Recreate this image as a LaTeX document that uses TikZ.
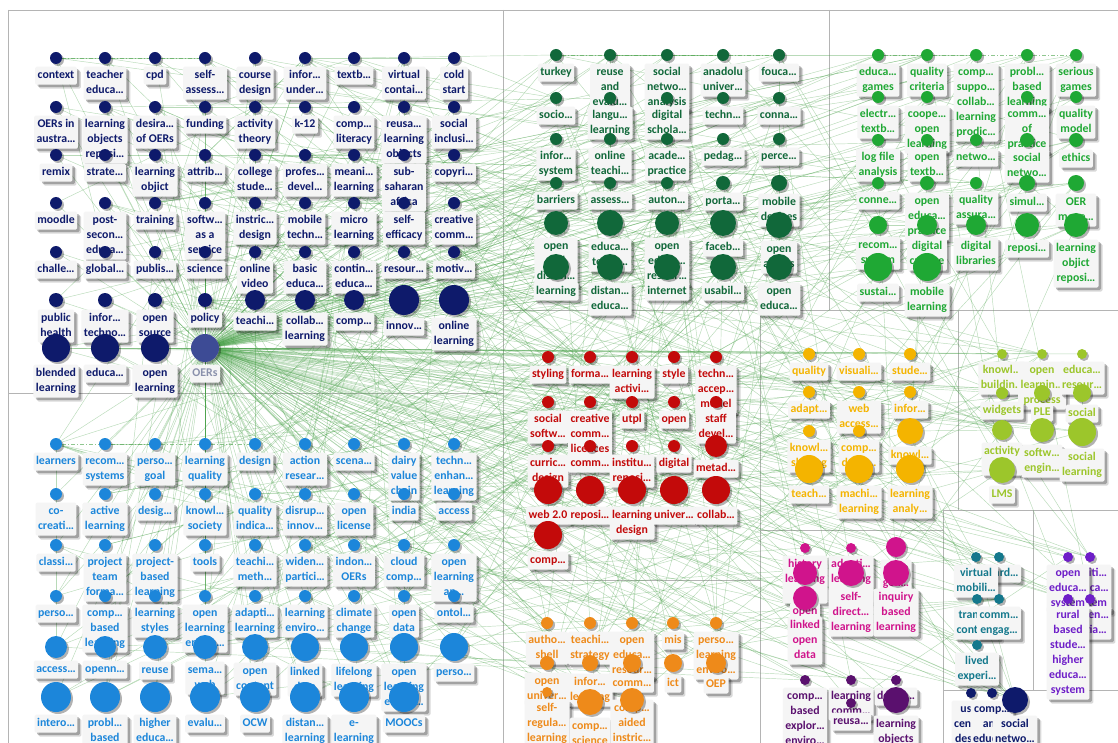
\documentclass[tikz,border=0pt]{standalone}
\usepackage{fontspec}
\setmainfont{Carlito}
\usetikzlibrary{shadows}

\definecolor{cNavy}{HTML}{0E1A6B}
\definecolor{cOer}{HTML}{3D4B95}
\definecolor{cOerText}{HTML}{8A91AC}
\definecolor{cSky}{HTML}{1C86DA}
\definecolor{cDkGreen}{HTML}{11683A}
\definecolor{cLtGreen}{HTML}{1FA834}
\definecolor{cRed}{HTML}{C30A0A}
\definecolor{cAmber}{HTML}{F4B400}
\definecolor{cLime}{HTML}{9CC62B}
\definecolor{cMagenta}{HTML}{D0148C}
\definecolor{cOrange}{HTML}{EE8A1A}
\definecolor{cTeal}{HTML}{14788C}
\definecolor{cViolet}{HTML}{6E1EC8}
\definecolor{cPlum}{HTML}{5A106E}
\definecolor{cEdge}{HTML}{45A045}
\definecolor{cPanel}{HTML}{B4B4B4}
\definecolor{cLabel}{HTML}{F5F5F5}

\pgfdeclarelayer{bg}
\pgfdeclarelayer{edges}
\pgfdeclarelayer{labels}
\pgfsetlayers{bg,edges,labels,main}

\newcount\kwn
\def\kwc{cNavy}
\def\kwlabels{}
\newcommand\kwfont{\fontsize{11.8}{15}\selectfont\bfseries}

\tikzset{
  kwdot/.style={circle, fill=\kwc, inner sep=0pt, draw=none,
    drop shadow={shadow xshift=2pt, shadow yshift=-2pt, opacity=.3, fill=black}},
  kwlabel/.style={anchor=north, fill=cLabel, rounded corners=1.5pt,
    inner xsep=2.5pt, inner ysep=1.5pt, align=center, font=\kwfont,
    drop shadow={shadow xshift=4pt, shadow yshift=-4pt, opacity=.15, fill=black},
    drop shadow={shadow xshift=2.5pt, shadow yshift=-2.5pt, opacity=.25, fill=black}},
  edge/.style={draw=cEdge, line width=.45pt, opacity=.38},
  dashedge/.style={draw=cEdge, line width=.5pt, opacity=.6, dash pattern=on 4pt off 2pt on 1pt off 2pt},
  panel/.style={draw=cPanel, line width=.7pt},
}

% keyword dot now, its label queued for the label layer:
% [label shift]{x}{y}{radius}{label}
\newcommand\kw[5][0]{%
  \global\advance\kwn by 1\relax
  \node[kwdot, minimum size=2*#4] (k\the\kwn) at (#2,#3) {};%
  \xdef\kwlabels{\unexpanded\expandafter{\kwlabels}%
    \noexpand\kwlab{\the\kwn}{\kwc}{#2}{#3+#4+2.5+#1}{\unexpanded{#5}}}}
\newcommand\kwlab[5]{\node[kwlabel, text=#2] (k#1-l) at (#3,#4) {\strut#5\strut};}

% dashed links along a row: first index, number of links
\newcommand\kwchain[2]{%
  \foreach \j in {1,...,#2}{%
    \pgfmathtruncatemacro\kwp{#1+\j-1}%
    \pgfmathtruncatemacro\kwq{#1+\j}%
    \draw[dashedge] (k\kwp) -- (k\kwq);}}

\begin{document}
\begin{tikzpicture}[x=1pt,y=-1pt]
\useasboundingbox (0,0) rectangle (1118,743);

\begin{pgfonlayer}{bg}
  \fill[white] (0,0) rectangle (1118,743);
  \draw[panel] (8,10) -- (1118,10);
  \draw[panel] (8,10) -- (8,743);
  \draw[panel] (503,10) -- (503,743);
  \draw[panel] (829,10) -- (829,310);
  \draw[panel] (8,393) -- (503,393);
  \draw[panel] (503,310) -- (1118,310);
  \draw[panel] (760,310) -- (760,743);
  \draw[panel] (503,580) -- (760,580);
  \draw[panel] (958,310) -- (958,510);
  \draw[panel] (760,530) -- (943,530);
  \draw[panel] (943,510) -- (943,743);
  \draw[panel] (943,510) -- (1118,510);
  \draw[panel] (1033,510) -- (1033,690);
  \draw[panel] (943,690) -- (1118,690);
\end{pgfonlayer}

% ---------------- navy cluster
\def\kwc{cNavy}
\xdef\navyfirst{\the\numexpr\kwn+1\relax}
\kw{56}{58}{6}{context}
\kw{105}{58}{6}{teacher\\educa…}
\kw{155}{58}{6}{cpd}
\kw{205}{58}{6}{self-\\assess…}
\kw{255}{58}{6}{course\\design}
\kw{305}{58}{6}{infor…\\under…}
\kw{354}{58}{6}{textb…}
\kw{404}{58}{6}{virtual\\contai…}
\kw{454}{58}{6}{cold\\start}
\kw{56}{107}{6}{OERs in\\austra…}
\kw{105}{107}{6}{learning\\objects\\reposi…}
\kw{155}{107}{6}{desira…\\of OERs}
\kw{205}{107}{6}{funding}
\kw{255}{107}{6}{activity\\theory}
\kw{305}{107}{6}{k-12}
\kw{354}{107}{6}{comp…\\literacy}
\kw{404}{107}{6}{reusa…\\learning\\objects}
\kw{454}{107}{6}{social\\inclusi…}
\kw{56}{155}{6}{remix}
\kw{105}{155}{6}{strate…}
\kw{155}{155}{6}{learning\\objict}
\kw{205}{155}{6}{attrib…}
\kw{255}{155}{6}{college\\stude…}
\kw{305}{155}{6}{profes…\\devel…}
\kw{354}{155}{6}{meani…\\learning}
\kw{404}{155}{6}{sub-\\saharan\\africa}
\kw{454}{155}{6}{copyri…}
\kw{56}{203}{6}{moodle}
\kw{105}{203}{6}{post-\\secon…\\educa…}
\kw{155}{203}{6}{training}
\kw{205}{203}{6}{softw…\\as a\\service}
\kw{255}{203}{6}{instric…\\design}
\kw{305}{203}{6}{mobile\\techn…}
\kw{354}{203}{6}{micro\\learning}
\kw{404}{203}{6}{self-\\efficacy}
\kw{454}{203}{6}{creative\\comm…}
\kw{56}{252}{6}{challe…}
\kw{105}{252}{6}{global…}
\kw{155}{252}{6}{publis…}
\kw{205}{252}{6}{science}
\kw{255}{252}{6}{online\\video}
\kw{305}{252}{6}{basic\\educa…}
\kw{354}{252}{6}{contin…\\educa…}
\kw{404}{252}{6}{resour…}
\kw{454}{252}{6}{motiv…}
\kw{56}{300}{7}{public\\health}
\kw{105}{300}{7}{infor…\\techno…}
\kw{155}{300}{7}{open\\source}
\kw{205}{300}{7}{policy}
\kw{255}{300}{10}{teachi…}
\kw{305}{300}{10}{collab…\\learning}
\kw{354}{300}{10}{comp…}
\kw{404}{300}{15}{innov…}
\kw{454}{300}{15}{online\\learning}
\kw{56}{348}{14}{blended\\learning}
\kw{105}{348}{14}{educa…}
\kw{155}{348}{14}{open\\learning}
\node[kwdot, fill=cOer, minimum size=28] (oers) at (205,348) {};

% ---------------- blue cluster
\def\kwc{cSky}
\xdef\bluefirst{\the\numexpr\kwn+1\relax}
\kw{56}{444}{6}{learners}
\kw{105}{444}{6}{recom…\\systems}
\kw{155}{444}{6}{perso…\\goal}
\kw{205}{444}{6}{learning\\quality}
\kw{255}{444}{6}{design}
\kw{305}{444}{6}{action\\resear…}
\kw{354}{444}{6}{scena…}
\kw{404}{444}{6}{dairy\\value\\chain}
\kw{454}{444}{6}{techn…\\enhan…\\learning}
\kw{56}{494}{6}{co-\\creati…}
\kw{105}{494}{6}{active\\learning}
\kw{155}{494}{6}{desig…}
\kw{205}{494}{6}{knowl…\\society}
\kw{255}{494}{6}{quality\\indica…}
\kw{305}{494}{6}{disrup…\\innov…}
\kw{354}{494}{6}{open\\license}
\kw{404}{494}{6}{india}
\kw{454}{494}{6}{access}
\kw{56}{545}{6}{classi…}
\kw{105}{545}{6}{project\\team\\forma…}
\kw{155}{545}{6}{project-\\based\\learning}
\kw{205}{545}{6}{tools}
\kw{255}{545}{6}{teachi…\\meth…}
\kw{305}{545}{6}{widen…\\partici…}
\kw{354}{545}{6}{indon…\\OERs}
\kw{404}{545}{6}{cloud\\comp…}
\kw{454}{545}{6}{open\\learning\\an…}
\kw{56}{596}{6}{perso…}
\kw{105}{596}{6}{comp…\\based\\learning}
\kw{155}{596}{6}{learning\\styles}
\kw{205}{596}{6}{open\\learning\\enviro…}
\kw{255}{596}{6}{adapti…\\learning}
\kw{305}{596}{6}{learning\\enviro…}
\kw{354}{596}{6}{climate\\change}
\kw{404}{596}{6}{open\\data}
\kw{454}{596}{6}{ontol…}
\kw{56}{647}{11}{access…}
\kw{105}{647}{11}{openn…}
\kw{155}{647}{12}{reuse}
\kw{205}{647}{12}{sema…\\web}
\kw{255}{647}{13}{open\\content}
\kw{305}{647}{14}{linked\\data}
\kw{354}{647}{14}{lifelong\\learning}
\kw{404}{647}{14}{open\\learning\\enviro…}
\kw{454}{647}{14}{perso…}
\kw{56}{697}{15}{intero…}
\kw{105}{697}{15}{probl…\\based\\learning}
\kw{155}{697}{15}{higher\\educa…}
\kw{205}{697}{15}{evalu…}
\kw{255}{697}{15}{OCW}
\kw{305}{697}{15}{distan…\\learning}
\kw{354}{697}{15}{e-\\learning}
\kw{404}{697}{15}{MOOCs}

% ---------------- dark green cluster
\def\kwc{cDkGreen}
\xdef\dkfirst{\the\numexpr\kwn+1\relax}
\kw{556}{55}{6}{turkey}
\kw{610}{55}{6}{reuse\\and\\evalu…}
\kw{667}{55}{6}{social\\netwo…\\analysis}
\kw{723}{55}{6}{anadolu\\univer…}
\kw{779}{55}{6}{fouca…}
\kw{556}{98}{6}{socio…}
\kw{610}{98}{6}{langu…\\learning}
\kw{667}{98}{6}{digital\\schola…}
\kw{723}{98}{6}{techn…}
\kw{779}{98}{6}{conna…}
\kw{556}{139}{6}{infor…\\system}
\kw{610}{139}{6}{online\\teachi…}
\kw{667}{139}{6}{acade…\\practice}
\kw{723}{139}{6}{pedag…}
\kw{779}{139}{6}{perce…}
\kw{556}{183}{6}{barriers}
\kw{610}{183}{6}{assess…}
\kw{667}{183}{6}{auton…}
\kw{723}{183}{7}{porta…}
\kw{779}{183}{8}{mobile\\devices}
\kw{556}{223}{12}{open\\and\\distan…}
\kw{610}{223}{13}{educa…\\techn…}
\kw{667}{223}{12}{open\\educa…\\resour…}
\kw{723}{223}{13}{faceb…}
\kw{779}{225}{13}{open\\access}
\kw{556}{267}{13}{learning}
\kw{610}{267}{13}{distan…\\educa…}
\kw{667}{267}{13}{internet}
\kw{723}{267}{13}{usabil…}
\kw{779}{267}{13}{open\\educa…}

% ---------------- light green cluster
\def\kwc{cLtGreen}
\xdef\ltfirst{\the\numexpr\kwn+1\relax}
\kw{878}{55}{6}{educa…\\games}
\kw{927}{55}{6}{quality\\criteria}
\kw{976}{55}{6}{comp…\\suppo…\\collab…\\learning\\prodic…}
\kw{1027}{55}{6}{probl…\\based\\learning}
\kw{1076}{55}{6}{serious\\games}
\kw{878}{97}{6}{electr…\\textb…}
\kw{927}{97}{6}{coope…\\open\\learning}
\kw{1027}{97}{6}{comm…\\of\\practice}
\kw{1076}{97}{6}{quality\\model}
\kw{878}{140}{6}{log file\\analysis}
\kw{927}{140}{6}{open\\textb…}
\kw{976}{140}{6}{netwo…}
\kw{1027}{140}{7}{social\\netwo…}
\kw{1076}{140}{7}{ethics}
\kw{878}{183}{6}{conne…}
\kw{927}{183}{7}{open\\educa…\\practice}
\kw{976}{183}{6}{quality\\assura…}
\kw{1027}{183}{8}{simul…}
\kw{1076}{183}{8}{OER\\move…}
\kw{878}{225}{9}{recom…\\system}
\kw{927}{225}{10}{digital\\culture}
\kw{976}{225}{10}{digital\\libraries}
\kw{1027}{225}{12}{reposi…}
\kw{1076}{225}{12}{learning\\objict\\reposi…}
\kw{878}{267}{14}{sustai…}
\kw{927}{267}{14}{mobile\\learning}

% ---------------- red cluster
\def\kwc{cRed}
\kw{548}{357}{6}{styling}
\kw{590}{357}{6}{forma…}
\kw{632}{357}{6}{learning\\activi…}
\kw{674}{357}{6}{style}
\kw{716}{357}{6}{techn…\\accep…\\model}
\kw{548}{402}{6}{social\\softw…}
\kw{590}{402}{6}{creative\\comm…\\licences}
\kw{632}{402}{6}{utpl}
\kw{674}{402}{6}{open}
\kw{716}{402}{6}{staff\\devel…}
\kw{548}{446}{6}{curric…\\design}
\kw{590}{446}{6}{comm…}
\kw{632}{446}{6}{institu…\\reposi…}
\kw{674}{446}{6}{digital}
\kw{716}{446}{11}{metad…}
\kw{548}{490}{14}{web 2.0}
\kw{590}{490}{14}{reposi…}
\kw{632}{490}{14}{learning\\design}
\kw{674}{490}{14}{univer…}
\kw{716}{490}{14}{collab…}
\kw{548}{535}{14}{comp…}

% ---------------- amber cluster
\def\kwc{cAmber}
\kw{809}{354}{6}{quality}
\kw{859}{354}{6}{visuali…}
\kw{910}{354}{6}{stude…}
\kw{809}{392}{6}{adapt…}
\kw{859}{392}{6}{web\\access…}
\kw{910}{392}{6}{infor…}
\kw{809}{431}{6}{knowl…\\sharing}
\kw{859}{431}{6}{comp…\\devel…}
\kw{910}{431}{13}{knowl…}
\kw{809}{469}{14}{teach…}
\kw{859}{469}{14}{machi…\\learning}
\kw{910}{469}{14}{learning\\analy…}

% ---------------- lime cluster
\def\kwc{cLime}
\kw{1002}{354}{5}{knowl…\\buildin…}
\kw{1042}{354}{5}{open\\learnin…\\process}
\kw{1082}{354}{5}{educa…\\resour…}
\kw{1002}{393}{6}{widgets}
\kw{1042}{393}{8}{PLE}
\kw{1082}{393}{9}{social}
\kw{1002}{430}{10}{activity\\s…}
\kw{1042}{430}{12}{softw…\\engin…}
\kw{1082}{432}{14}{social\\learning}
\kw{1002}{470}{13}{LMS}

% ---------------- magenta cluster
\def\kwc{cMagenta}
\kw{805}{548}{5}{history\\learning\\s…}
\kw{851}{548}{5}{adapti…\\learning\\s…}
\kw{896}{547}{10}{open\\gen…}
\kw[15]{805}{573}{12}{open}
\kw{851}{573}{13}{self-\\direct…\\learning}
\kw{896}{573}{13}{inquiry\\based\\learning}
\kw[4]{805}{598}{12}{linked\\open\\data}

% ---------------- orange cluster
\def\kwc{cOrange}
\kw{547}{623}{6}{autho…\\shell}
\kw{590}{623}{6}{teachi…\\strategy}
\kw{632}{623}{6}{open\\educa…\\resour…}
\kw{673}{623}{6}{mis}
\kw{716}{623}{6}{perso…\\learning\\enviro…}
\kw{547}{663}{7}{open\\univer…}
\kw{590}{663}{8}{infor…\\learning}
\kw{632}{663}{9}{comm…}
\kw{673}{663}{9}{ict}
\kw{716}{663}{10}{OEP}
\kw{547}{692}{5}{self-\\regula…\\learning}
\kw{590}{702}{13}{comp…\\science}
\kw[-15]{632}{700}{12}{comp…\\aided\\instric…}

% ---------------- teal cluster
\def\kwc{cTeal}
\kw{999}{557}{5}{award…}
\kw{976}{557}{5}{virtual\\mobili…}
\kw{977}{599}{5}{transf…\\contex…}
\kw{999}{599}{5}{comm…\\engag…}
\kw{977}{645}{5}{lived\\experi…}

% ---------------- violet cluster
\def\kwc{cViolet}
\kw{1090}{557}{5}{politi…\\educa…\\system}
\kw{1068}{557}{5}{open\\educa…\\system}
\kw{1090}{599}{5}{decen…\\initia…}
\kw{1068}{599}{5}{rural\\based\\stude…\\higher\\educa…\\system}

% ---------------- plum cluster
\def\kwc{cPlum}
\kw{805}{680}{5}{comp…\\based\\explor…\\enviro…}
\kw{851}{680}{5}{learning\\comm…}
\kw{896}{680}{5}{decen…}
\kw[2]{851}{703}{5}{reusa…}
\kw{896}{700}{13}{learning\\objects}

% ---------------- small navy cluster
\def\kwc{cNavy}
\kw{971}{693}{5}{user\\centr…\\design}
\kw{992}{693}{5}{comp…\\and\\educa…}
\kw{1015}{700}{13}{social\\netwo…}

% ---------------- labels, below the dots
\begin{pgfonlayer}{labels}
  \kwlabels
  \node[kwlabel, text=cOerText] (oers-l) at (205,348+14+2.5) {\strut OERs\strut};
\end{pgfonlayer}

% ---------------- connectors
\xdef\kwtotal{\the\kwn}
\begin{pgfonlayer}{edges}
  \foreach \i in {1,...,\kwtotal}{\draw[edge] (oers) -- (k\i);}
  \pgfmathsetseed{4711}
  \foreach \e in {1,...,440}{%
    \pgfmathtruncatemacro\ea{random(1,\kwtotal)}%
    \pgfmathtruncatemacro\eb{random(1,\kwtotal)}%
    \ifnum\ea=\eb\else\draw[edge] (k\ea) -- (k\eb);\fi}
  \kwchain{\bluefirst}{4}
  \kwchain{\dkfirst}{4}
  \kwchain{\ltfirst}{4}
  \kwchain{\navyfirst}{3}
\end{pgfonlayer}
\end{tikzpicture}
\end{document}
